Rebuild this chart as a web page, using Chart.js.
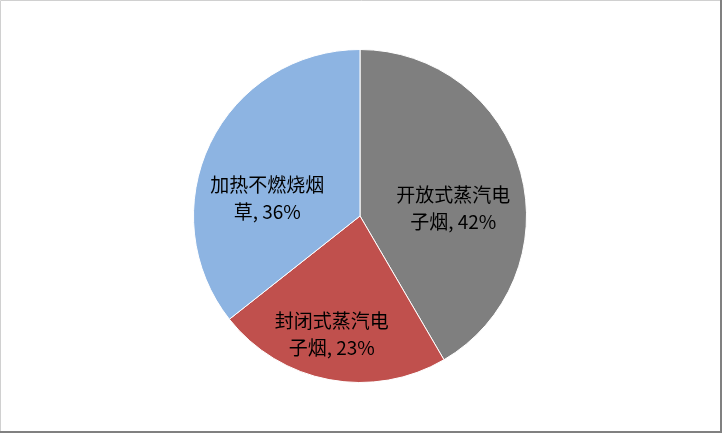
<!DOCTYPE html>
<html>
<head>
<meta charset="utf-8">
<script src="https://cdn.jsdelivr.net/npm/chart.js@4/dist/chart.umd.min.js"></script>
<style>
html,body{margin:0;padding:0;background:#fff;}
#wrap{width:722px;height:433px;position:relative;}
</style>
</head>
<body>
<div id="wrap"><canvas id="c" width="722" height="433"></canvas></div>
<script>
const categories = ["开放式蒸汽电子烟", "封闭式蒸汽电子烟", "加热不燃烧烟草"];
const labelLines = [["开放式蒸汽电", "子烟, 42%"], ["封闭式蒸汽电", "子烟, 23%"], ["加热不燃烧烟", "草, 36%"]];
const shares = [42, 23, 36];
const colors = ["#7F7F7F", "#C0504D", "#8DB4E2"];
const labelOffsets = [[0.56, -0.048], [-0.17, 0.71], [-0.557, -0.108]];

const labelPlugin = {
  id: 'sliceLabels',
  afterDatasetsDraw(chart) {
    const ctx = chart.ctx;
    const meta = chart.getDatasetMeta(0);
    ctx.save();
    ctx.font = '19px "Noto Sans CJK SC", sans-serif';
    ctx.fillStyle = '#000';
    ctx.textAlign = 'center';
    ctx.textBaseline = 'middle';
    meta.data.forEach((arc, i) => {
      const r = arc.outerRadius;
      const x = arc.x + labelOffsets[i][0] * r;
      const y = arc.y + labelOffsets[i][1] * r;
      const lines = labelLines[i];
      const lh = 27;
      lines.forEach((t, k) => {
        ctx.fillText(t, x, y + (k - (lines.length - 1) / 2) * lh);
      });
    });
    ctx.restore();
  }
};

const framePlugin = {
  id: 'frame',
  afterDraw(chart) {
    const ctx = chart.ctx;
    const w = chart.width, h = chart.height;
    ctx.save();
    ctx.strokeStyle = '#d0d0d0';
    ctx.lineWidth = 1;
    ctx.beginPath();
    ctx.moveTo(0.5, h); ctx.lineTo(0.5, 0.5); ctx.lineTo(w, 0.5);
    ctx.stroke();
    ctx.strokeStyle = '#808080';
    ctx.lineWidth = 2;
    ctx.beginPath();
    ctx.moveTo(w - 1, 0); ctx.lineTo(w - 1, h - 1); ctx.lineTo(0, h - 1);
    ctx.stroke();
    ctx.restore();
  }
};

new Chart(document.getElementById('c'), {
  type: 'pie',
  data: {
    labels: categories,
    datasets: [{
      data: shares,
      backgroundColor: colors,
      borderColor: '#ffffff',
      borderWidth: 1
    }]
  },
  options: {
    responsive: false,
    animation: false,
    devicePixelRatio: 1,
    layout: { padding: { top: 49, bottom: 50, left: 0, right: 2 } },
    plugins: {
      legend: { display: false },
      tooltip: { enabled: false }
    }
  },
  plugins: [labelPlugin, framePlugin]
});
</script>
</body>
</html>
